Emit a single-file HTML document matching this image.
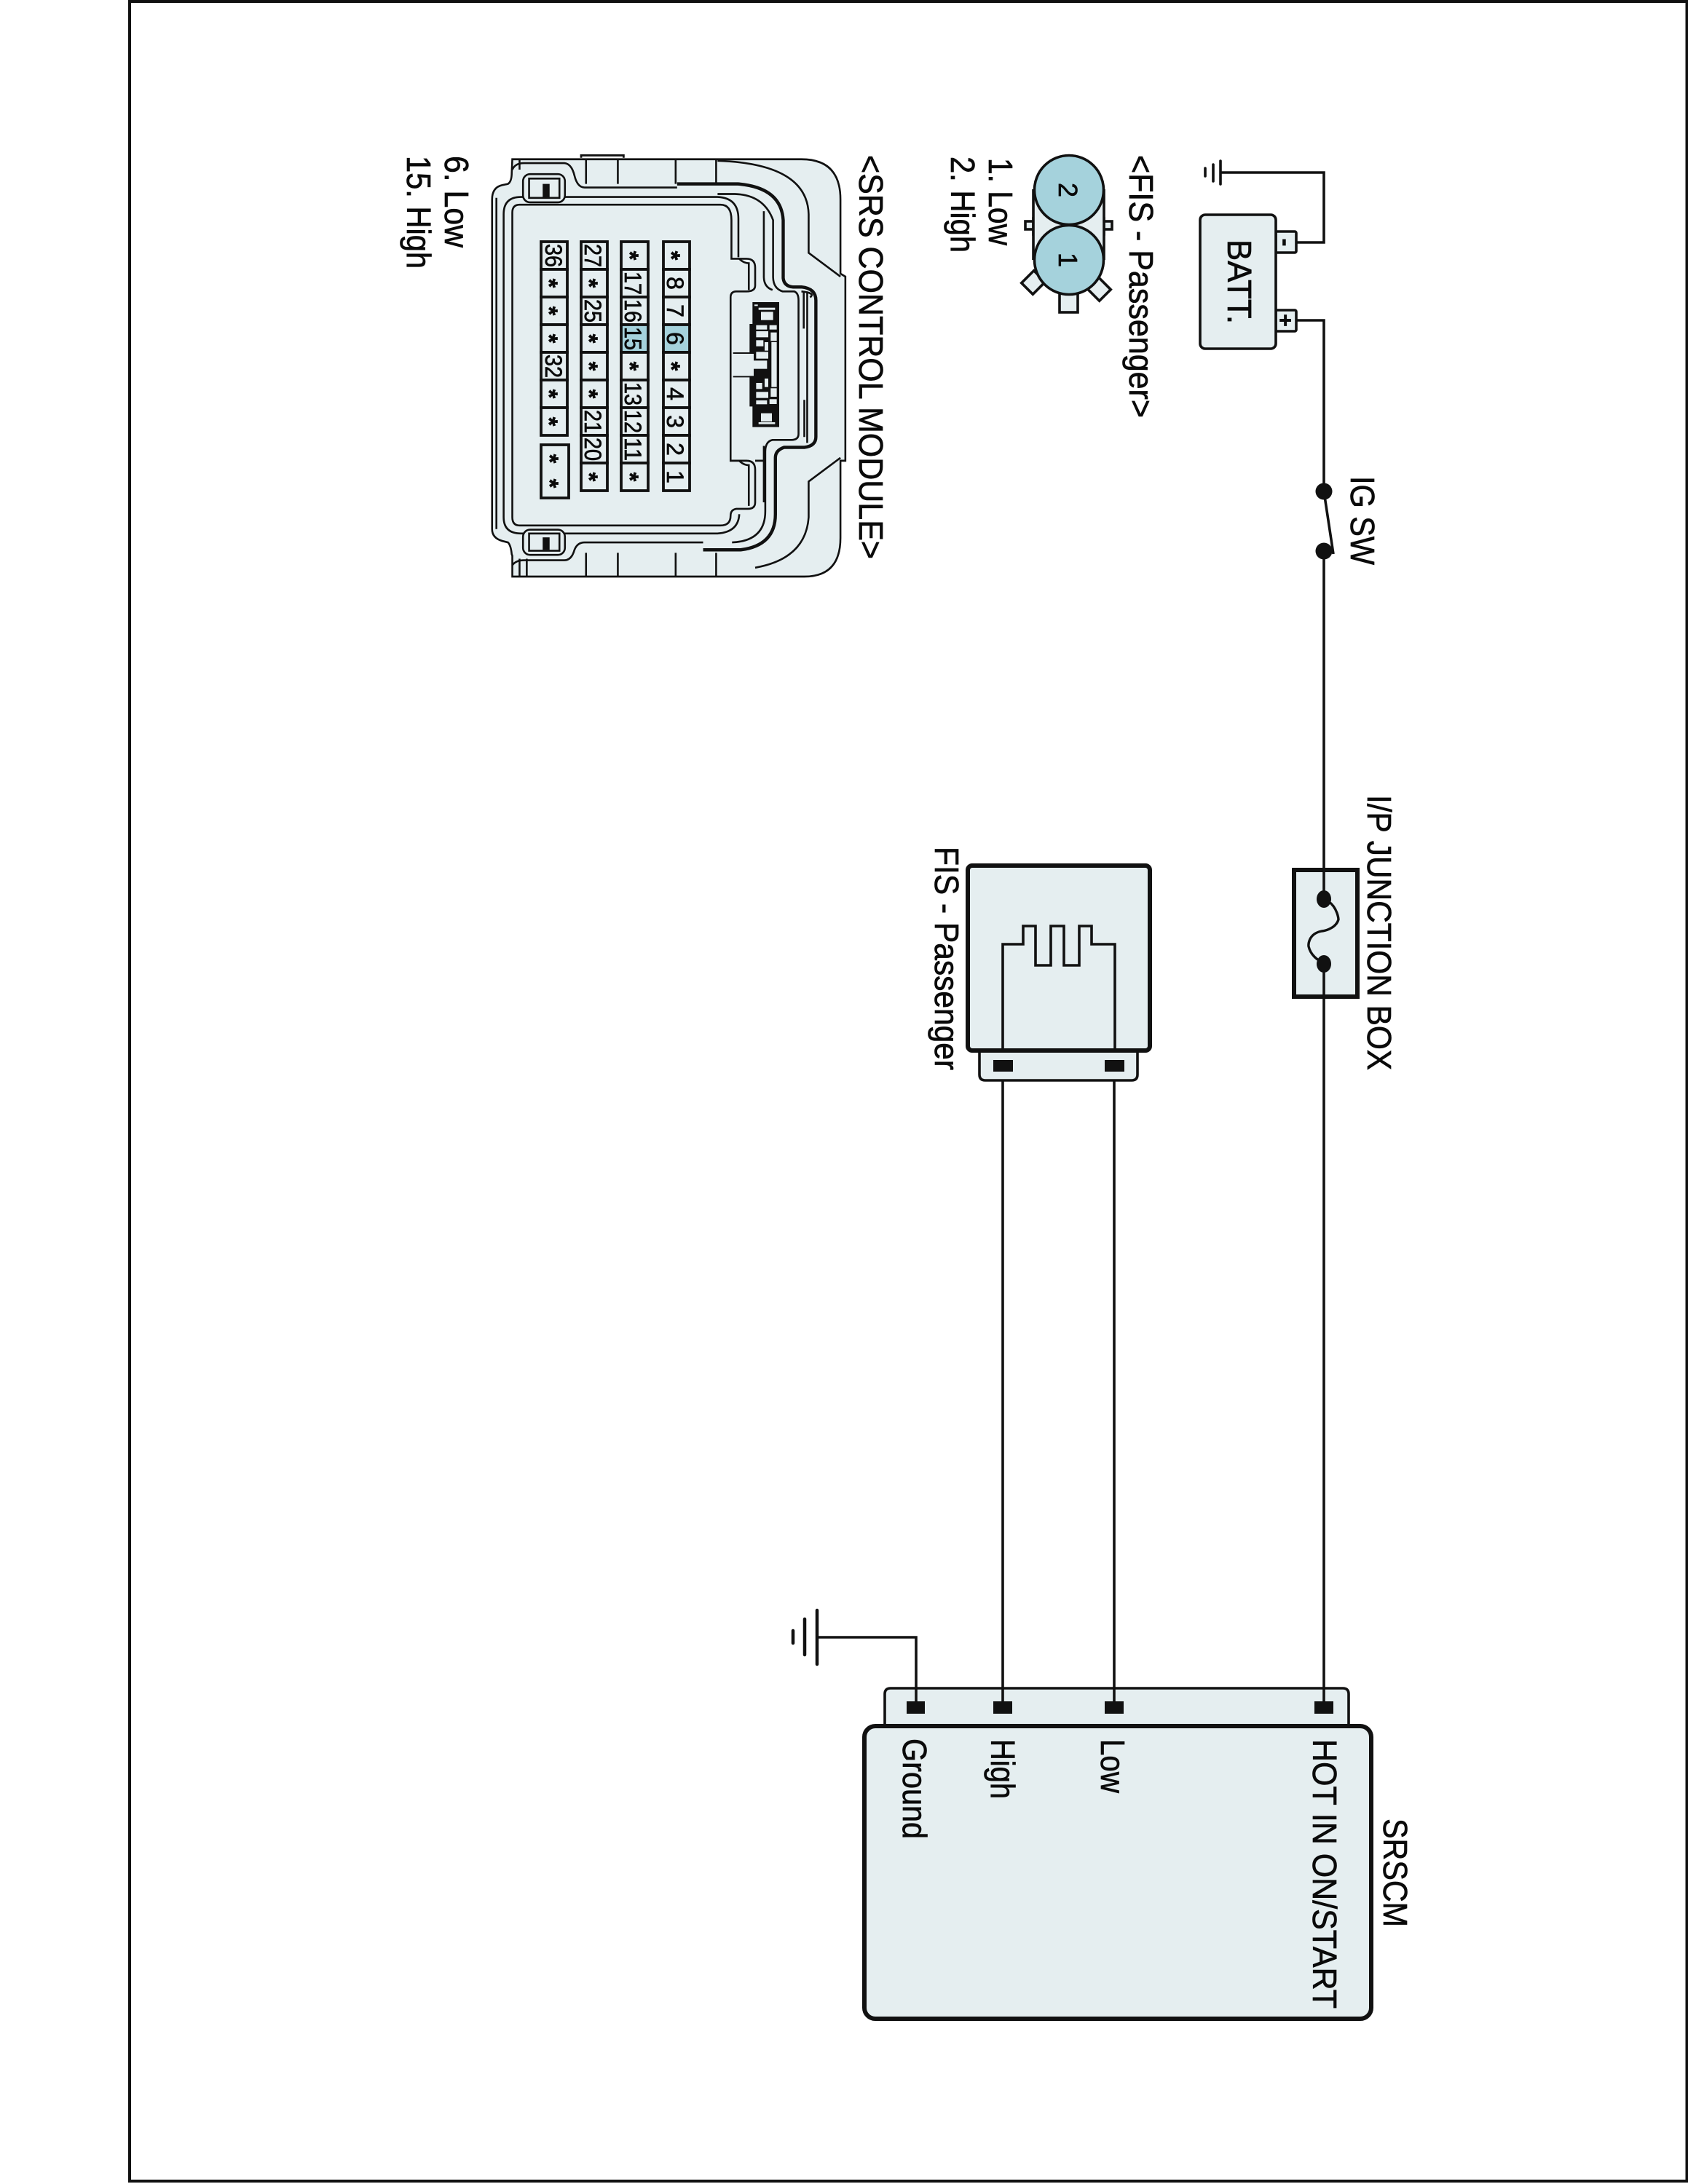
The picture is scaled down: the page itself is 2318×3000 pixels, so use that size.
<!DOCTYPE html>
<html><head><meta charset="utf-8"><style>
html,body{margin:0;padding:0;background:#fff}
svg{display:block}
text{font-family:"Liberation Sans",sans-serif;fill:#0a0a0a;stroke:#0a0a0a;stroke-width:.7}
</style></head><body>
<svg xmlns="http://www.w3.org/2000/svg" width="2318" height="3000" viewBox="0 0 2318 3000">
<rect x="178" y="2" width="2138.5" height="2994" fill="#fff" stroke="#111" stroke-width="4"/>

<!-- SRS connector -->
<g transform="translate(640,180) scale(0.397,0.408)" fill="none" stroke="#111" stroke-width="6.5">
<path fill="#e5eef0" d="M160,95 H1160 Q1295,95 1295,230 V480 L1312,490 V1110 H1295 V1370 Q1295,1500 1170,1500 H160 V1430 L158,1425 Q155,1395 145,1385 L125,1380 Q90,1370 90,1340 V230 Q90,190 125,182 L145,178 Q158,170 158,140 Z"/>
<path d="M398,90 V82 H545 V90" stroke-width="7"/>
<path d="M415,95 V178 M525,95 V178 M725,95 V178 M865,95 V178 M415,1420 V1500 M525,1420 V1500 M725,1420 V1500 M865,1420 V1500 M185,95 V130 M185,1500 V1440 M210,1500 V1440"/>
<path d="M160,130 Q170,108 200,108 H340 Q365,110 375,150 Q385,190 410,190 H730 M160,1462 Q172,1445 200,1445 H340 Q365,1445 375,1410 Q385,1385 410,1385 H820"/>
<path d="M105,225 V1340 M130,280 Q130,222 190,222 H870 Q942,225 942,295 V425 M130,280 V1300 Q130,1355 190,1355 H870 Q942,1350 945,1290"/>
<path fill="#e5eef0" d="M185,248 H880 Q918,248 918,300 V430 H970 Q1000,430 1000,460 V520 Q1000,540 970,540 H935 Q915,540 915,560 V1110 H970 Q1000,1110 1000,1140 V1250 Q1000,1272 975,1272 H935 Q915,1275 915,1295 Q915,1328 880,1328 H185 Q160,1328 160,1300 V275 Q160,248 185,248 Z"/>
<path d="M945,430 Q960,445 978,445 V535 M945,1110 Q960,1125 978,1125 V1262"/>
<path stroke-width="11" d="M730,178 H940 Q1090,190 1097,300 V495 Q1100,522 1130,525 H1160 Q1210,530 1210,570 V1030 Q1210,1060 1170,1065 H1100 Q1070,1075 1070,1100 V1290 Q1070,1395 950,1410 H820"/>
<path d="M870,212 H930 Q1030,215 1062,300 V490 Q1062,530 1095,540 H1135 Q1150,545 1150,570 V1020 Q1150,1040 1125,1040 H1060 Q1035,1045 1035,1080 V1280 Q1035,1380 920,1385 M1030,270 V490 Q1030,525 1060,535 M1000,1110 H1030 M1030,1060 V1250"/>
<path d="M1168,540 V665 M1170,905 V1030 M1180,540 V1050"/>
<path d="M870,100 Q1180,110 1185,280 V410 L1295,490 M1295,1100 L1185,1180 V1300 Q1175,1440 1000,1470 M1160,540 Q1210,545 1190,560"/>
<g fill="#e5eef0">
<rect x="197" y="145" width="145" height="95" rx="24"/>
<rect x="218" y="160" width="105" height="65" />
<rect x="197" y="1342" width="145" height="85" rx="24"/>
<rect x="218" y="1355" width="105" height="58" />
</g>
<g fill="#111" stroke="none">
<rect x="265" y="178" width="24" height="45"/>
<rect x="265" y="1368" width="24" height="42"/>
</g>
</g>

<!-- latch -->
<g transform="translate(1000,370) scale(0.3333)">
<rect x="100" y="135" width="110" height="515" fill="#111"/>
<path d="M88,225 H115 V565 H88 Z M20,342 H105 V348 H20 Z M20,439 H105 V445 H20 Z" fill="#111"/>
<g fill="#e5eef0">
<rect x="108" y="145" width="14" height="6"/>
<rect x="125" y="158" width="68" height="9"/>
<rect x="125" y="630" width="68" height="8"/>
<rect x="135" y="175" width="50" height="34"/>
<rect x="135" y="593" width="45" height="34"/>
<rect x="115" y="230" width="45" height="18"/>
<rect x="115" y="255" width="50" height="25"/>
<rect x="170" y="230" width="30" height="18"/>
<rect x="175" y="260" width="25" height="35"/>
<rect x="115" y="292" width="30" height="25"/>
<rect x="178" y="300" width="22" height="185"/>
<rect x="115" y="340" width="50" height="28"/>
<rect x="20" y="348" width="85" height="91"/>
<rect x="105" y="376" width="55" height="34"/>
<rect x="115" y="468" width="25" height="25"/>
<rect x="115" y="505" width="50" height="25"/>
<rect x="115" y="540" width="45" height="16"/>
<rect x="175" y="490" width="25" height="35"/>
<rect x="170" y="535" width="30" height="20"/>
<rect x="150" y="300" width="15" height="35"/>
<rect x="150" y="450" width="15" height="35"/>
</g>
</g>

<!-- pin cells -->
<g fill="#e5eef0" stroke="#111" stroke-width="3.8">
<rect x="743" y="332" width="36" height="38"/><rect x="743" y="370" width="36" height="38"/><rect x="743" y="408" width="36" height="38"/><rect x="743" y="446" width="36" height="38"/><rect x="743" y="484" width="36" height="38"/><rect x="743" y="522" width="36" height="38"/><rect x="743" y="560" width="36" height="38"/>
<rect x="743" y="611" width="38" height="73"/>
<rect x="798" y="332" width="36" height="38"/><rect x="798" y="370" width="36" height="38"/><rect x="798" y="408" width="36" height="38"/><rect x="798" y="446" width="36" height="38"/><rect x="798" y="484" width="36" height="38"/><rect x="798" y="522" width="36" height="38"/><rect x="798" y="560" width="36" height="38"/><rect x="798" y="598" width="36" height="38"/><rect x="798" y="636" width="36" height="38"/>
<rect x="853" y="332" width="37" height="38"/><rect x="853" y="370" width="37" height="38"/><rect x="853" y="408" width="37" height="38"/><rect x="853" y="446" width="37" height="38" fill="#a5d2dc"/><rect x="853" y="484" width="37" height="38"/><rect x="853" y="522" width="37" height="38"/><rect x="853" y="560" width="37" height="38"/><rect x="853" y="598" width="37" height="38"/><rect x="853" y="636" width="37" height="38"/>
<rect x="911" y="332" width="36" height="38"/><rect x="911" y="370" width="36" height="38"/><rect x="911" y="408" width="36" height="38"/><rect x="911" y="446" width="36" height="38" fill="#a5d2dc"/><rect x="911" y="484" width="36" height="38"/><rect x="911" y="522" width="36" height="38"/><rect x="911" y="560" width="36" height="38"/><rect x="911" y="598" width="36" height="38"/><rect x="911" y="636" width="36" height="38"/>
</g>
<g font-size="32" text-anchor="middle">
<text transform="translate(749,351) rotate(90)" textLength="32" lengthAdjust="spacingAndGlyphs">36</text>
<text transform="translate(749,503) rotate(90)" textLength="32" lengthAdjust="spacingAndGlyphs">32</text>
<text transform="translate(803,351) rotate(90)" textLength="32" lengthAdjust="spacingAndGlyphs">27</text>
<text transform="translate(803,427) rotate(90)" textLength="32" lengthAdjust="spacingAndGlyphs">25</text>
<text transform="translate(803,579) rotate(90)" textLength="32" lengthAdjust="spacingAndGlyphs">21</text>
<text transform="translate(803,617) rotate(90)" textLength="32" lengthAdjust="spacingAndGlyphs">20</text>
<text transform="translate(858,389) rotate(90)" textLength="32" lengthAdjust="spacingAndGlyphs">17</text>
<text transform="translate(858,427) rotate(90)" textLength="32" lengthAdjust="spacingAndGlyphs">16</text>
<text transform="translate(858,465) rotate(90)" textLength="32" lengthAdjust="spacingAndGlyphs">15</text>
<text transform="translate(858,541) rotate(90)" textLength="32" lengthAdjust="spacingAndGlyphs">13</text>
<text transform="translate(858,579) rotate(90)" textLength="32" lengthAdjust="spacingAndGlyphs">12</text>
<text transform="translate(858,617) rotate(90)" textLength="32" lengthAdjust="spacingAndGlyphs">11</text>
<text transform="translate(916,389) rotate(90)">8</text>
<text transform="translate(916,427) rotate(90)">7</text>
<text transform="translate(916,465) rotate(90)">6</text>
<text transform="translate(916,541) rotate(90)">4</text>
<text transform="translate(916,579) rotate(90)">3</text>
<text transform="translate(916,617) rotate(90)">2</text>
<text transform="translate(916,655) rotate(90)">1</text>
</g>
<g font-size="32" font-weight="bold" text-anchor="middle">
<text transform="translate(743,389) rotate(90)">*</text><text transform="translate(743,427) rotate(90)">*</text><text transform="translate(743,465) rotate(90)">*</text><text transform="translate(743,541) rotate(90)">*</text><text transform="translate(743,579) rotate(90)">*</text>
<text transform="translate(744,630) rotate(90)">*</text><text transform="translate(744,664) rotate(90)">*</text>
<text transform="translate(798,389) rotate(90)">*</text><text transform="translate(798,465) rotate(90)">*</text><text transform="translate(798,503) rotate(90)">*</text><text transform="translate(798,541) rotate(90)">*</text><text transform="translate(798,655) rotate(90)">*</text>
<text transform="translate(854,351) rotate(90)">*</text><text transform="translate(854,503) rotate(90)">*</text><text transform="translate(854,655) rotate(90)">*</text>
<text transform="translate(911,351) rotate(90)">*</text><text transform="translate(911,503) rotate(90)">*</text>
</g>

<!-- wires -->
<g fill="none" stroke="#111" stroke-width="3.6">
<path d="M1780,333 H1818 V237 H1677"/>
<path d="M1780,440 H1818 V675 M1818,757 V2337"/>
<path d="M1818,675 L1831,761"/>
<path d="M1377,1471 V2337 M1530,1471 V2337"/>
<path d="M1258,2337 V2249 H1122"/>
</g>
<g stroke="#111" stroke-linecap="round" fill="none">
<path stroke-width="3.6" d="M1676,221 V253 M1666,226 V249 M1655,231 V242"/>
<path stroke-width="4.5" d="M1122,2212 V2286 M1105,2224 V2273 M1089,2240 V2257"/>
</g>

<!-- battery -->
<g fill="#e5eef0" stroke="#111" stroke-width="3.6">
<rect x="1752" y="318" width="28" height="29" rx="2"/>
<rect x="1752" y="426" width="28" height="29" rx="2"/>
<rect x="1648" y="295" width="104" height="184" rx="7"/>
</g>
<circle cx="1818" cy="675" r="11.5" fill="#111"/><circle cx="1818" cy="757" r="11.5" fill="#111"/>
<text font-size="46" transform="translate(1686,329) rotate(90)" textLength="116" lengthAdjust="spacingAndGlyphs">BATT.</text>
<text font-size="32" font-weight="bold" text-anchor="middle" transform="translate(1755,333) rotate(90)">-</text>
<text font-size="30" font-weight="bold" text-anchor="middle" transform="translate(1755,440) rotate(90)">+</text>

<!-- FIS plug -->
<g fill="#e5eef0" stroke="#111" stroke-width="3.6">
<rect x="1419" y="300" width="97" height="22" />
<rect x="1408" y="304" width="11" height="11" />
<rect x="1516" y="304" width="11" height="11"/>
<rect x="1419" y="260" width="97" height="97" stroke="none"/>
<path d="M1419,260 V357 M1516,260 V357"/>
<rect x="1455" y="392" width="25" height="37"/>
<rect x="1408" y="376" width="22" height="24" transform="rotate(45 1419 388)"/>
<rect x="1498" y="385" width="22" height="24" transform="rotate(-45 1509 397)"/>
<circle cx="1468" cy="261" r="47.5" fill="#a5d2dc"/>
<circle cx="1468" cy="357" r="47.5" fill="#a5d2dc"/>
</g>
<text font-size="36" text-anchor="middle" transform="translate(1454,261) rotate(90)">2</text>
<text font-size="36" text-anchor="middle" transform="translate(1454,357) rotate(90)">1</text>

<!-- fuse -->
<rect x="1777" y="1195" width="87" height="174" fill="#e5eef0" stroke="#111" stroke-width="6"/>
<path d="M1818,1195 V1235 M1818,1324 V1369" stroke="#111" stroke-width="3.6" fill="none"/>
<path d="M1824,1238 C1837,1247 1838,1263 1838,1263 C1834,1277 1815,1279 1815,1279 C1795,1283 1797,1300 1797,1300 C1800,1313 1811,1319 1811,1319" stroke="#111" stroke-width="3.4" fill="none"/>
<ellipse cx="1818" cy="1235" rx="10" ry="12" fill="#111"/><ellipse cx="1818" cy="1324" rx="10" ry="12" fill="#111"/>

<!-- FIS box -->
<path d="M1345,1445 V1476 Q1345,1484 1353,1484 H1554 Q1562,1484 1562,1476 V1445" fill="#e5eef0" stroke="#111" stroke-width="3.6"/>
<rect x="1329" y="1189" width="250" height="254" rx="6" fill="#e5eef0" stroke="#111" stroke-width="6"/>
<path d="M1377,1440 V1297 H1405 V1272 H1422 V1326 H1443 V1272 H1461 V1326 H1482 V1272 H1499 V1297 H1531 V1440" fill="none" stroke="#111" stroke-width="3.6"/>
<rect x="1364" y="1456" width="27" height="16" fill="#111"/><rect x="1517" y="1456" width="27" height="16" fill="#111"/>

<!-- SRSCM -->
<path d="M1215,2370 V2327 Q1215,2319 1223,2319 H1844 Q1852,2319 1852,2327 V2370" fill="#e5eef0" stroke="#111" stroke-width="3.6"/>
<rect x="1187" y="2371" width="696" height="402" rx="15" fill="#e5eef0" stroke="#111" stroke-width="6"/>
<path d="M1258,2319 V2337 M1377,2319 V2337 M1530,2319 V2337 M1818,2319 V2337" stroke="#111" stroke-width="3.6"/>
<rect x="1245" y="2337" width="25" height="17" fill="#111"/><rect x="1364" y="2337" width="26" height="17" fill="#111"/><rect x="1517" y="2337" width="26" height="17" fill="#111"/><rect x="1805" y="2337" width="26" height="17" fill="#111"/>

<!-- labels -->
<g font-size="46">
<text transform="translate(1180,213) rotate(90)" textLength="555" lengthAdjust="spacingAndGlyphs">&lt;SRS CONTROL MODULE&gt;</text>
<text transform="translate(1551,213) rotate(90)" textLength="361" lengthAdjust="spacingAndGlyphs">&lt;FIS - Passenger&gt;</text>
<text transform="translate(1358,217) rotate(90)" textLength="120" lengthAdjust="spacingAndGlyphs">1. Low</text>
<text transform="translate(1306,215) rotate(90)" textLength="132" lengthAdjust="spacingAndGlyphs">2. High</text>
<text transform="translate(611,214) rotate(90)" textLength="126" lengthAdjust="spacingAndGlyphs">6. Low</text>
<text transform="translate(559,214) rotate(90)" textLength="155" lengthAdjust="spacingAndGlyphs">15. High</text>
<text transform="translate(1855,654) rotate(90)" textLength="122" lengthAdjust="spacingAndGlyphs">IG SW</text>
<text transform="translate(1878,1092) rotate(90)" textLength="378" lengthAdjust="spacingAndGlyphs">I/P JUNCTION BOX</text>
<text transform="translate(1284,1163) rotate(90)" textLength="307" lengthAdjust="spacingAndGlyphs">FIS - Passenger</text>
<text transform="translate(1240,2388) rotate(90)" textLength="138" lengthAdjust="spacingAndGlyphs">Ground</text>
<text transform="translate(1361,2389) rotate(90)" textLength="82" lengthAdjust="spacingAndGlyphs">High</text>
<text transform="translate(1512,2389) rotate(90)" textLength="74" lengthAdjust="spacingAndGlyphs">Low</text>
<text transform="translate(1803,2389) rotate(90)" textLength="370" lengthAdjust="spacingAndGlyphs">HOT IN ON/START</text>
<text transform="translate(1900,2498) rotate(90)" textLength="149" lengthAdjust="spacingAndGlyphs">SRSCM</text>
</g>
</svg>
</body></html>
